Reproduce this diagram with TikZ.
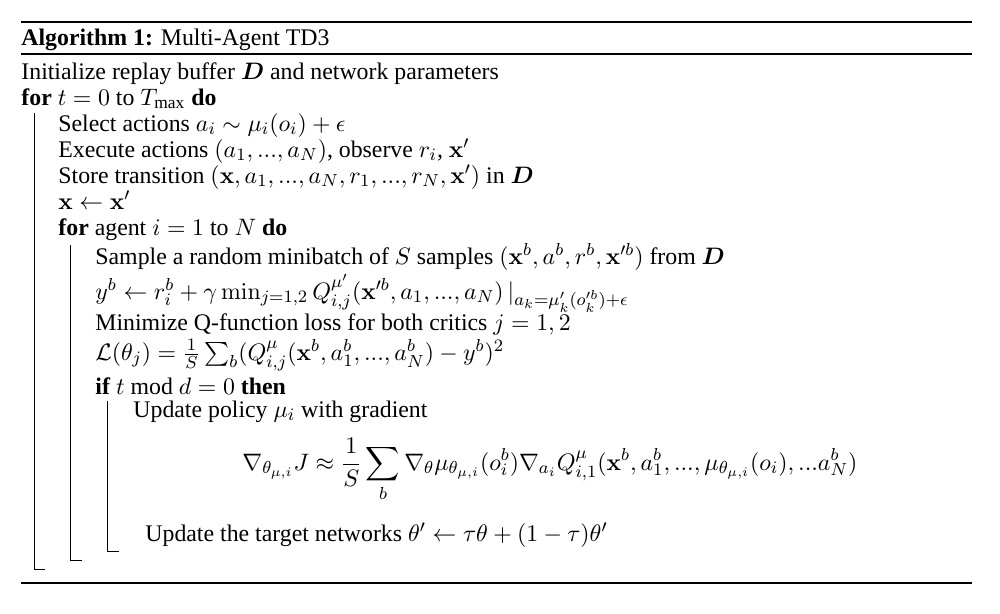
\documentclass[tikz,border=0pt,11pt]{standalone}
\usepackage{amsmath, amssymb}
\usepackage[no-math]{fontspec}
\setmainfont{Liberation Serif}
\usepackage{tikz}

\begin{document}
\begin{tikzpicture}[x=0.46pt, y=-0.46pt,
        algline/.style={anchor=base west, inner sep=0pt},
        bigrule/.style={line width=0.8pt},
        blockbar/.style={line width=0.4pt}]
            \useasboundingbox (0,0) rectangle (1000,614);

            % Reglas del algoritmo
            \coordinate (r1a) at (21,22);  \coordinate (r1b) at (972,22);
            \coordinate (r2a) at (21,54);  \coordinate (r2b) at (972,54);
            \coordinate (r3a) at (21,583); \coordinate (r3b) at (972,583);
            \draw[bigrule] (r1a) -- (r1b);
            \draw[bigrule] (r2a) -- (r2b);
            \draw[bigrule] (r3a) -- (r3b);

            % Titulo
            \node[algline] (title) at (21,45) {\textbf{Algorithm 1:} Multi-Agent TD3};

            % Lineas del algoritmo
            \node[algline] (init) at (21,79) {Initialize replay buffer $\boldsymbol{D}$ and network parameters};
            \node[algline] (fort) at (21,105) {\textbf{for} $t = 0$ to $T_{\text{max}}$ \textbf{do}};
            \node[algline] (select) at (58,131) {Select actions $a_i \sim \mu_i(o_i) + \epsilon$};
            \node[algline] (execute) at (58,157) {Execute actions $(a_1, ..., a_N)$, observe $r_i$, $\mathbf{x}'$};
            \node[algline] (store) at (58,183) {Store transition $(\mathbf{x}, a_1, ..., a_N, r_1, ..., r_N, \mathbf{x}')$ in $\boldsymbol{D}$};
            \node[algline] (assign) at (58,209) {$\mathbf{x} \leftarrow \mathbf{x}'$};
            \node[algline] (foragent) at (58,235) {\textbf{for} agent $i = 1$ to $N$ \textbf{do}};
            \node[algline] (sample) at (95,264) {Sample a random minibatch of $S$ samples $(\mathbf{x}^b, a^b, r^b, \mathbf{x}'^b)$ from $\boldsymbol{D}$};
            \node[algline] (target) at (95,299) {$y^b \leftarrow r^b_i + \gamma \min_{j=1,2} Q^{\mu'}_{i,j}(\mathbf{x}'^b, a_1, ..., a_N) \,|_{a_k=\mu'_k(o'^b_k)+\epsilon}$};
            \node[algline] (minimize) at (95,330) {Minimize Q-function loss for both critics $j = 1, 2$};
            \node[algline] (loss) at (95,360) {$\mathcal{L}(\theta_j) = \frac{1}{S}\sum_b (Q^{\mu}_{i,j}(\mathbf{x}^b, a^b_1, ..., a^b_N) - y^b)^2$};
            \node[algline] (ifmod) at (95,394) {\textbf{if} $t$ mod $d = 0$ \textbf{then}};
            \node[algline] (policy) at (133,417) {Update policy $\mu_i$ with gradient};
            \node[algline] (grad) at (242,470) {$\displaystyle \nabla_{\theta_{\mu,i}} J \approx \frac{1}{S}\sum_b \nabla_\theta \mu_{\theta_{\mu,i}}(o^b_i)\nabla_{a_i} Q^{\mu}_{i,1}(\mathbf{x}^b, a^b_1, ..., \mu_{\theta_{\mu,i}}(o_i), ...a^b_N)$};
            \node[algline] (update) at (145,541) {Update the target networks $\theta' \leftarrow \tau\theta + (1-\tau)\theta'$};

            % Bloques
            \coordinate (b1top) at (34,113);  \coordinate (b1bot) at (34,569);
            \coordinate (b2top) at (70,245);  \coordinate (b2bot) at (70,560);
            \coordinate (b3top) at (107,401); \coordinate (b3bot) at (107,551);
            \draw[blockbar] (b1top) -- (b1bot) -- ++(11,0);
            \draw[blockbar] (b2top) -- (b2bot) -- ++(12,0);
            \draw[blockbar] (b3top) -- (b3bot) -- ++(12,0);
        \end{tikzpicture}
\end{document}
